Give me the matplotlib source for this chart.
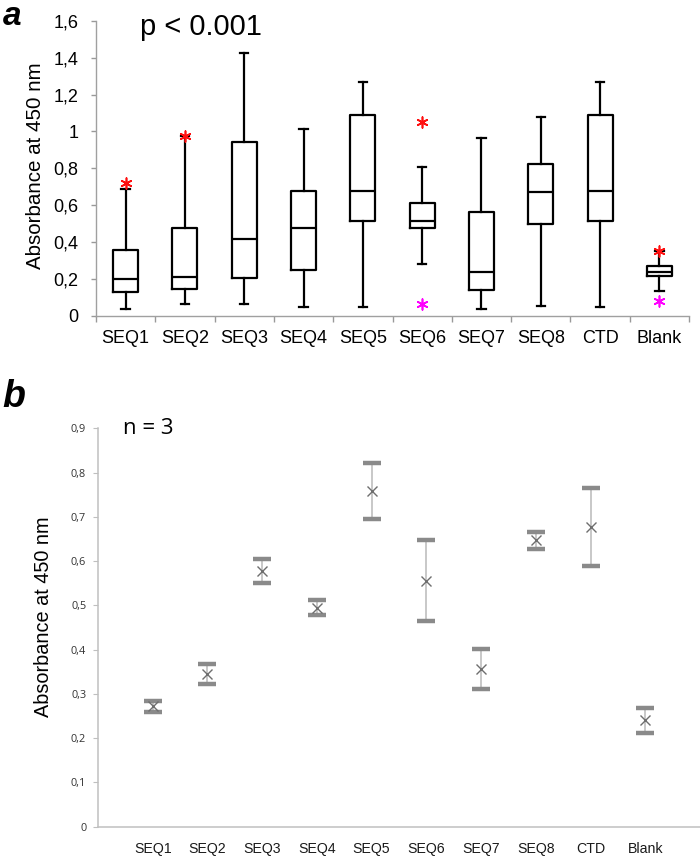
import matplotlib
matplotlib.use("Agg")
import matplotlib.pyplot as plt
import numpy as np

# ---------------- data ----------------
categories = ["SEQ1", "SEQ2", "SEQ3", "SEQ4", "SEQ5", "SEQ6", "SEQ7", "SEQ8", "CTD", "Blank"]

# panel a: box plot statistics
box_whislo = [0.036, 0.067, 0.067, 0.047, 0.047, 0.282, 0.040, 0.056, 0.047, 0.137]
box_q1     = [0.132, 0.148, 0.208, 0.249, 0.513, 0.478, 0.141, 0.497, 0.513, 0.217]
box_med    = [0.202, 0.211, 0.419, 0.478, 0.675, 0.513, 0.237, 0.672, 0.675, 0.240]
box_q3     = [0.357, 0.478, 0.944, 0.679, 1.089, 0.610, 0.565, 0.823, 1.089, 0.271]
box_whishi = [0.690, 0.975, 1.423, 1.015, 1.269, 0.809, 0.962, 1.078, 1.269, 0.350]

# outliers (category index, value)
outlier_high_cat = [0, 1, 5, 9]
outlier_high_val = [0.722, 0.975, 1.049, 0.350]
outlier_low_cat = [5, 9]
outlier_low_val = [0.063, 0.081]

yticks_a = [0, 0.2, 0.4, 0.6, 0.8, 1.0, 1.2, 1.4, 1.6]
yticklabels_a = ["0", "0,2", "0,4", "0,6", "0,8", "1", "1,2", "1,4", "1,6"]

# panel b: means with error range (n = 3)
mean_b  = [0.273, 0.344, 0.577, 0.493, 0.758, 0.556, 0.356, 0.647, 0.678, 0.241]
lower_b = [0.258, 0.322, 0.551, 0.478, 0.695, 0.464, 0.310, 0.628, 0.589, 0.212]
upper_b = [0.284, 0.367, 0.604, 0.511, 0.822, 0.648, 0.402, 0.666, 0.765, 0.269]

yticks_b = [0, 0.1, 0.2, 0.3, 0.4, 0.5, 0.6, 0.7, 0.8, 0.9]
yticklabels_b = ["0", "0,1", "0,2", "0,3", "0,4", "0,5", "0,6", "0,7", "0,8", "0,9"]

# ---------------- figure ----------------
W, H = 700, 857
fig = plt.figure(figsize=(W / 100, H / 100), dpi=100)
fig.patch.set_facecolor("white")
SANS = "Liberation Sans"

def fx(px):
    return px / W

def fy(py):
    return 1 - py / H

# ---------- panel a ----------
axa = fig.add_axes([fx(96), fy(316), fx(689) - fx(96), fy(20.7) - fy(316)])
pos = np.arange(1, len(categories) + 1)
stats = []
for i in range(len(categories)):
    stats.append(dict(whislo=box_whislo[i], q1=box_q1[i], med=box_med[i],
                      q3=box_q3[i], whishi=box_whishi[i], fliers=[]))
lw = 1.6
axa.bxp(stats, positions=pos, widths=0.42, capwidths=0.14, showfliers=False,
        boxprops=dict(color="black", linewidth=lw),
        whiskerprops=dict(color="black", linewidth=lw),
        capprops=dict(color="black", linewidth=lw),
        medianprops=dict(color="black", linewidth=lw))
ast = (6, 2, 0)
axa.scatter([pos[i] for i in outlier_high_cat], outlier_high_val, marker=ast,
            s=60, color="#ff1010", linewidths=1.2, zorder=5)
axa.scatter([pos[i] for i in outlier_low_cat], outlier_low_val, marker=ast,
            s=60, color="#ff00ff", linewidths=1.2, zorder=5)

axa.set_xlim(0.5, len(categories) + 0.5)
axa.set_ylim(0, 1.6)
axa.set_xticks(np.arange(0.5, len(categories) + 1, 1.0))
axa.set_xticklabels([])
axa.set_xticks(pos, minor=True)
axa.set_xticklabels(categories, minor=True, fontsize=13, family=SANS)
axa.tick_params(axis="x", which="major", length=4.5, width=1, color="#999999", direction="out")
axa.tick_params(axis="x", which="minor", length=0, pad=10)
axa.set_yticks(yticks_a)
axa.set_yticklabels(yticklabels_a, fontsize=13, family=SANS)
axa.tick_params(axis="y", length=3.5, width=1, color="#999999", pad=9)
for s in ["top", "right"]:
    axa.spines[s].set_visible(False)
for s in ["left", "bottom"]:
    axa.spines[s].set_color("#a0a0a0")
    axa.spines[s].set_linewidth(1)

fig.text(fx(36), fy(165.5), "Absorbance at 450 nm", rotation=90, ha="center", va="center",
         fontsize=14.8, family=SANS)
fig.text(fx(201), fy(35), "p < 0.001", ha="center", va="baseline", fontsize=21, family=SANS)
fig.text(fx(3), fy(25), "a", ha="left", va="baseline", fontsize=24, family=SANS,
         fontweight="bold", fontstyle="italic")

# ---------- panel b ----------
axb = fig.add_axes([fx(98), fy(826.7), fx(700) - fx(98), fy(428.3) - fy(826.7)])
mean_arr = np.array(mean_b)
err = [mean_arr - np.array(lower_b), np.array(upper_b) - mean_arr]
_, caps, bars = axb.errorbar(pos, mean_b, yerr=err, fmt="none", ecolor="#c4c4c4",
                             elinewidth=1.3, capsize=6.2, capthick=3.2, zorder=2)
for c in caps:
    c.set_color("#8a8a8a")
    c.set_markeredgecolor("#8a8a8a")
    c.set_markerfacecolor("#8a8a8a")
axb.plot(pos, mean_b, linestyle="none", marker="x", markersize=7.5, markeredgewidth=1.0,
         color="#6e6e6e", zorder=3)

axb.set_xlim(0, len(categories) + 1)
axb.set_ylim(0, 0.9)
axb.set_xticks(pos)
axb.set_xticklabels(categories, fontsize=10.2, family=SANS, color="#1a1a1a")
axb.tick_params(axis="x", length=0, pad=11)
axb.set_yticks(yticks_b)
axb.set_yticklabels(yticklabels_b, fontsize=7.8, family="Open Sans", color="#333333")
axb.tick_params(axis="y", length=3.5, width=0.8, color="#bfbfbf", pad=5)
for s in ["top", "right"]:
    axb.spines[s].set_visible(False)
for s in ["left", "bottom"]:
    axb.spines[s].set_color("#c0c0c0")
    axb.spines[s].set_linewidth(1.1)

fig.text(fx(44), fy(616.7), "Absorbance at 450 nm", rotation=90, ha="center", va="center",
         fontsize=14.3, family=SANS)
fig.text(fx(123), fy(434), "n = 3", ha="left", va="baseline", fontsize=16, family="Open Sans")
fig.text(fx(2), fy(407), "b", ha="left", va="baseline", fontsize=27, family=SANS,
         fontweight="bold", fontstyle="italic")

fig.savefig("out.png", dpi=100, facecolor="white")
